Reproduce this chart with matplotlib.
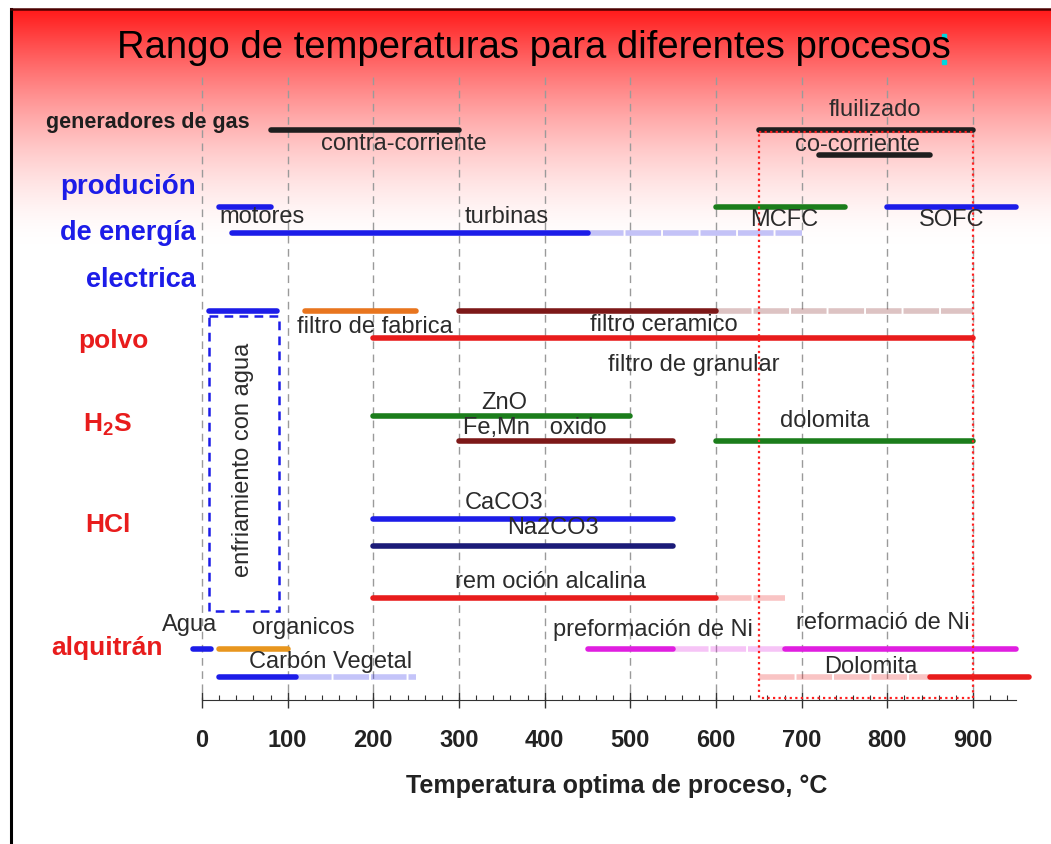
import numpy as np
import matplotlib
matplotlib.use("Agg")
import matplotlib.pyplot as plt
from matplotlib import font_manager
from matplotlib.patches import Rectangle

# ---- data: optimal temperature ranges (°C) ------------------------------
bar_names = ["contra-corriente", "fluilizado", "co-corriente",
             "motores", "turbinas", "MCFC", "SOFC",
             "enfriamiento", "filtro de fabrica", "filtro ceramico", "filtro de granular",
             "ZnO", "Fe,Mn oxido", "dolomita",
             "CaCO3", "Na2CO3", "remocion alcalina",
             "Agua", "organicos", "Carbon Vegetal",
             "preformacion de Ni", "reformacio de Ni", "Dolomita"]
bar_start = [80, 650, 720, 20, 35, 600, 800, 8, 120, 300, 200, 200, 300, 600,
             200, 200, 200, -10, 20, 20, 450, 680, 850]
bar_end = [300, 900, 850, 80, 450, 750, 950, 88, 250, 600, 900, 500, 550, 900,
           550, 550, 600, 10, 100, 110, 550, 950, 965]

# faded (uncertain) extensions of some ranges
ext_names = ["turbinas", "filtro ceramico", "remocion alcalina",
             "Carbon Vegetal", "preformacion de Ni", "Dolomita"]
ext_start = [450, 600, 600, 110, 550, 650]
ext_end = [700, 900, 680, 250, 680, 850]

tick_values = list(range(0, 1000, 100))

# ---- layout / styles ----------------------------------------------------
BLUE = "#1c1ce8"
RED = "#e81c1c"
GREEN = "#1b7d1b"
DRED = "#7d1818"
NAVY = "#1b1b78"
BLACK = "#1e1e1e"
ORANGE = "#e8751e"
GOLD = "#e8961e"
MAGENTA = "#e01ee0"
TXT = "#2b2b2b"

# row position of each bar (pixel rows, axis at 700)
row_y = {"contra-corriente": 130, "fluilizado": 130, "co-corriente": 155,
         "motores": 207, "turbinas": 233, "MCFC": 207, "SOFC": 207,
         "enfriamiento": 311, "filtro de fabrica": 311, "filtro ceramico": 311,
         "filtro de granular": 338, "ZnO": 416, "Fe,Mn oxido": 441, "dolomita": 441,
         "CaCO3": 519, "Na2CO3": 546, "remocion alcalina": 598,
         "Agua": 649, "organicos": 649, "Carbon Vegetal": 677,
         "preformacion de Ni": 649, "reformacio de Ni": 649, "Dolomita": 677}
bar_color = {"contra-corriente": BLACK, "fluilizado": BLACK, "co-corriente": BLACK,
             "motores": BLUE, "turbinas": BLUE, "MCFC": GREEN, "SOFC": BLUE,
             "enfriamiento": BLUE, "filtro de fabrica": ORANGE, "filtro ceramico": DRED,
             "filtro de granular": RED, "ZnO": GREEN, "Fe,Mn oxido": DRED, "dolomita": GREEN,
             "CaCO3": BLUE, "Na2CO3": NAVY, "remocion alcalina": RED,
             "Agua": BLUE, "organicos": GOLD, "Carbon Vegetal": BLUE,
             "preformacion de Ni": MAGENTA, "reformacio de Ni": MAGENTA, "Dolomita": RED}

# bar annotations: text, x (°C), row
annotations = [("contra-corriente", 235, 144), ("fluilizado", 785, 110),
               ("co-corriente", 765, 145), ("motores", 70, 217), ("turbinas", 356, 217),
               ("MCFC", 680, 220), ("SOFC", 875, 220),
               ("filtro de fabrica", 202, 327), ("filtro ceramico", 539, 325),
               ("filtro de granular", 574, 365), ("ZnO", 353, 403),
               ("Fe,Mn   oxido", 389, 428), ("dolomita", 727, 421),
               ("CaCO3", 353, 503), ("Na2CO3", 410, 528),
               ("rem oción alcalina", 407, 582), ("Agua", -14, 625),
               ("organicos", 118, 628), ("Carbón Vegetal", 150, 662),
               ("preformación de Ni", 526, 630), ("reformació de Ni", 795, 623),
               ("Dolomita", 781, 667)]

# category labels on the left: text, x (°C), row, colour, alignment, size
categories = [("generadores de gas", 56, 123, BLACK, "right", 15.5),
              ("produción", -7, 187, BLUE, "right", 20),
              ("de energía", -7, 233, BLUE, "right", 19.5),
              ("electrica", -7, 280, BLUE, "right", 19.5),
              ("polvo", -103, 341, RED, "center", 19),
              (r"$\mathbf{H_2S}$", -110, 425, RED, "center", 19),
              ("HCl", -110, 525, RED, "center", 19),
              ("alquitrán", -111, 648, RED, "center", 19)]

plt.rcParams['font.family'] = ['Liberation Sans', 'DejaVu Sans']
plt.rcParams['mathtext.fontset'] = 'custom'
plt.rcParams['mathtext.rm'] = 'Liberation Sans'
plt.rcParams['mathtext.bf'] = 'Liberation Sans:bold'

W, H = 1051, 844
PX = (973 - 202) / 900.0          # pixels per °C
fig = plt.figure(figsize=(W / 100, H / 100), dpi=100)

# background: red-to-white gradient slide frame
bg = fig.add_axes([0, 0, 1, 1], zorder=-10)
bg.set_xlim(0, W)
bg.set_ylim(H, 0)
bg.axis("off")
rows = np.arange(9, H)
u = np.clip((rows - 9) / 235.0, 0, 1)
frac = 1 - (1 - u) ** 1.6
red = np.array([1.0, 0.1, 0.1])
grad = red[None, :] * (1 - frac[:, None]) + frac[:, None]
bg.imshow(grad[:, None, :], extent=(11, W, H, 9), aspect="auto", interpolation="bilinear")
bg.plot([11, 11], [9, H], color="black", lw=2.2)
bg.plot([11, W], [9, 9], color="#4a0000", lw=1.8)
bg.plot([944, 944], [36, 62], ls="none", marker="s", ms=2.5, color="#00d8e0")

# main axes spanning the slide width
ax = fig.add_axes([0, 1 - 700 / H, 1, (700 - 75) / H])
ax.patch.set_visible(False)
ax.set_xlim(-202 / PX, (W - 202) / PX)
ax.set_ylim(700, 75)
for s in ["left", "right", "top"]:
    ax.spines[s].set_visible(False)
ax.spines["bottom"].set_bounds(0, 950)
ax.spines["bottom"].set_color("#333333")
ax.set_yticks([])
ax.set_xticks(tick_values)
ax.set_xticks(np.arange(0, 941, 20), minor=True)
ax.tick_params(axis="x", which="major", direction="inout", length=12, width=1,
               color="#333333", labelsize=17, pad=15, labelcolor="#222222")
ax.tick_params(axis="x", which="minor", direction="in", length=3.5, width=0.8, color="#333333")
for lab in ax.get_xticklabels():
    lab.set_fontweight("bold")

# vertical grid
ax.vlines(tick_values, 77, 700, colors="#9a9a9a", linestyles=(0, (5.5, 4)), lw=1, zorder=1)

# bars
for name, s, e in zip(bar_names, bar_start, bar_end):
    ax.plot([s, e], [row_y[name]] * 2, color=bar_color[name], lw=4,
            solid_capstyle="round", zorder=3)
for name, s, e in zip(ext_names, ext_start, ext_end):
    ax.plot([s, e], [row_y[name]] * 2, color=bar_color[name], alpha=0.26, lw=4,
            linestyle=(0, (6.4, 0.35)), dash_capstyle="butt", zorder=2)

# water-cooling box and hot-gas window
ax.add_patch(Rectangle((8, 316), 82, 295, fill=False, ec=BLUE, lw=1.8,
                       linestyle=(0, (3.5, 2.5)), zorder=3))
ax.text(48, 460, "enfriamiento con agua", rotation=90, ha="center", va="center",
        fontsize=17, color=TXT)
ax.add_patch(Rectangle((650, 132), 250, 566, fill=False, ec="#ff2020", lw=1.6,
                       linestyle=(0, (1, 1.5)), zorder=4))

for text, x, y in annotations:
    ax.text(x, y, text, ha="center", va="center", fontsize=17, color=TXT, zorder=5)

for text, x, y, c, ha, fs in categories:
    ax.text(x, y, text, ha=ha, va="center", fontsize=fs, color=c, fontweight="bold")

# title and axis label
names = {f.name for f in font_manager.fontManager.ttflist}
if "Liberation Sans Narrow" in names:
    tfont, tsize = "Liberation Sans Narrow", 33
else:
    tfont, tsize = "Liberation Sans", 27.5
ax.text((534 - 202) / PX, 58, "Rango de temperaturas para diferentes procesos",
        ha="center", va="baseline", fontsize=tsize, family=tfont, color="black")
ax.text((617 - 202) / PX, 793, "Temperatura optima de proceso, °C", ha="center",
        va="baseline", fontsize=18, fontweight="bold", color="#222222")

fig.savefig("out.png", dpi=100)
